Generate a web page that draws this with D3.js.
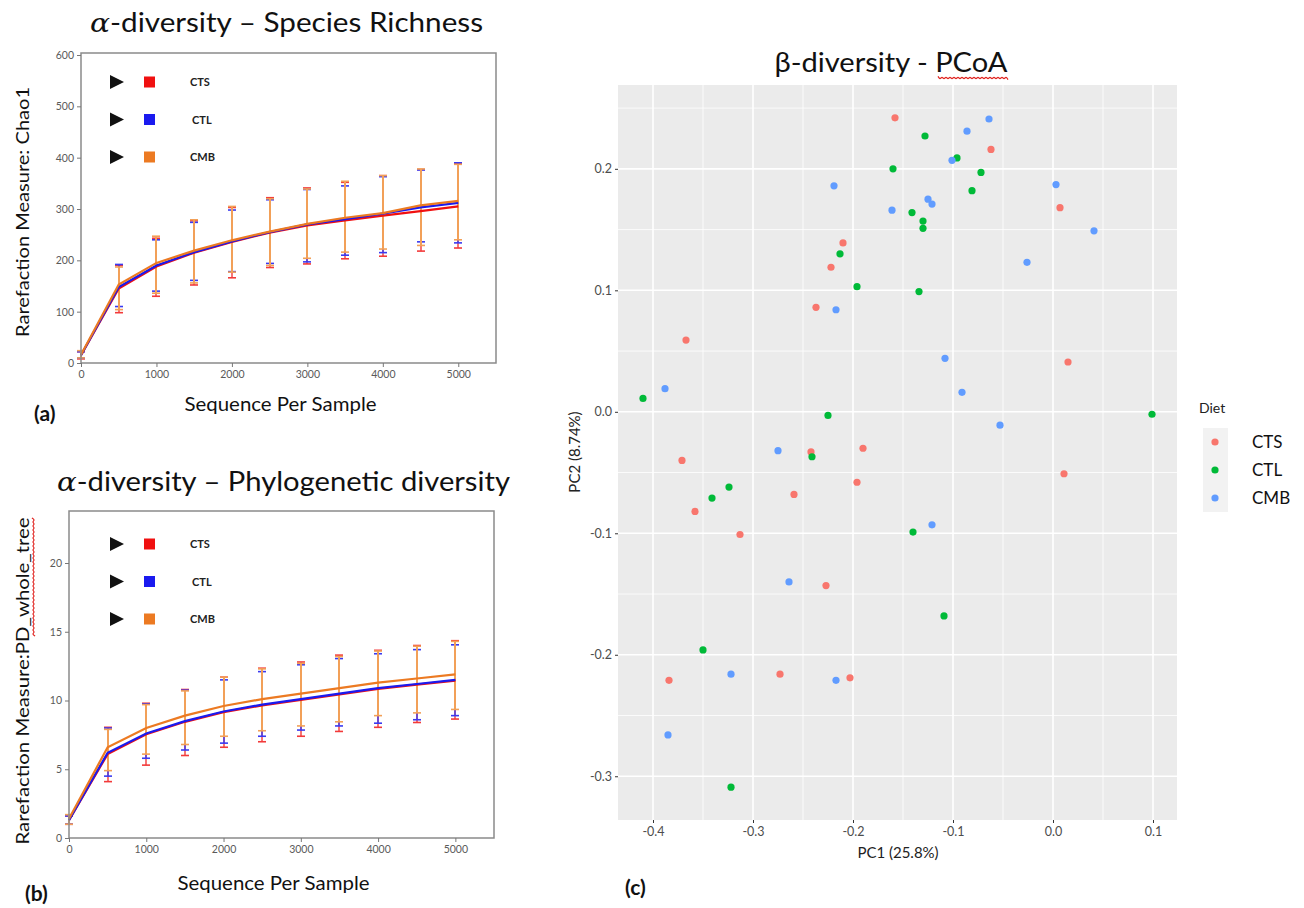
<!DOCTYPE html>
<html>
<head>
<meta charset="utf-8">
<script src="https://cdn.jsdelivr.net/npm/d3@7"></script>
<style>
  body { margin: 0; background: #fff; }
  text { font-family: Lato, "Open Sans", sans-serif; }
</style>
</head>
<body>
<div id="chart"></div>
<script>
// sequencing depths (x of both rarefaction plots)
var seqDepth = [0, 500, 1000, 1500, 2000, 2500, 3000, 3500, 4000, 4500, 5000];
var groups = ["CTS", "CTL", "CMB"];

// Chao1 rarefaction (a)
var chaoCTS = [15, 145, 188, 215, 236, 254, 268, 278, 287, 296, 305];
var chaoCTL = [15, 148, 190, 216, 237, 255, 270, 280, 291, 303, 312];
var chaoCMB = [16, 153, 195, 219, 239, 256, 271, 283, 292, 307, 316];
var chaoCTSHi = [22, 190, 243, 277, 303, 322, 341, 352, 365, 377, 388];
var chaoCTSLo = [8, 98, 130, 152, 166, 186, 193, 203, 208, 218, 224];
var chaoCTLHi = [22, 192, 240, 274, 298, 318, 338, 345, 363, 376, 390];
var chaoCTLLo = [10, 110, 140, 161, 178, 194, 197, 210, 215, 236, 234];
var chaoCMBHi = [24, 187, 247, 279, 305, 320, 339, 354, 365, 378, 387];
var chaoCMBLo = [10, 104, 136, 156, 177, 190, 204, 216, 222, 229, 240];

// PD whole tree rarefaction (b)
var pdCTS = [1.3, 6.1, 7.55, 8.45, 9.15, 9.65, 10.05, 10.45, 10.85, 11.15, 11.45];
var pdCTL = [1.3, 6.2, 7.6, 8.5, 9.2, 9.7, 10.1, 10.5, 10.9, 11.2, 11.5];
var pdCMB = [1.4, 6.6, 8.0, 8.9, 9.6, 10.1, 10.5, 10.9, 11.3, 11.6, 11.9];
var pdCTSHi = [1.6, 8.05, 9.8, 10.8, 11.7, 12.35, 12.8, 13.3, 13.65, 14.0, 14.35];
var pdCTSLo = [1.0, 4.1, 5.3, 6.0, 6.6, 7.0, 7.4, 7.75, 8.05, 8.4, 8.65];
var pdCTLHi = [1.6, 8.0, 9.75, 10.75, 11.5, 12.1, 12.6, 13.05, 13.4, 13.7, 14.05];
var pdCTLLo = [1.0, 4.5, 5.8, 6.4, 6.9, 7.4, 7.85, 8.15, 8.35, 8.6, 8.9];
var pdCMBHi = [1.7, 7.9, 9.7, 10.7, 11.7, 12.3, 12.7, 13.2, 13.6, 13.95, 14.3];
var pdCMBLo = [1.0, 4.9, 6.1, 6.8, 7.4, 7.8, 8.15, 8.45, 8.9, 9.1, 9.35];

// PCoA coordinates (c)
var ctsPC1 = [-0.158, -0.062, 0.007, -0.210, -0.222, -0.237, -0.367, 0.015, -0.242, -0.190, -0.371, -0.196, -0.259, -0.358, -0.313, 0.011, -0.227, -0.273, -0.203, -0.384];
var ctsPC2 = [0.242, 0.216, 0.168, 0.139, 0.119, 0.086, 0.059, 0.041, -0.033, -0.030, -0.040, -0.058, -0.068, -0.082, -0.101, -0.051, -0.143, -0.216, -0.219, -0.221];
var ctlPC1 = [-0.128, -0.160, -0.096, -0.072, -0.081, -0.141, -0.130, -0.130, -0.213, -0.196, -0.134, -0.410, -0.225, 0.099, -0.241, -0.324, -0.341, -0.140, -0.109, -0.350, -0.322];
var ctlPC2 = [0.227, 0.200, 0.209, 0.197, 0.182, 0.164, 0.157, 0.151, 0.130, 0.103, 0.099, 0.011, -0.003, -0.002, -0.037, -0.062, -0.071, -0.099, -0.168, -0.196, -0.309];
var cmbPC1 = [-0.064, -0.086, -0.101, -0.219, 0.003, -0.161, -0.125, -0.121, 0.041, -0.026, -0.217, -0.108, -0.388, -0.091, -0.053, -0.275, -0.121, -0.264, -0.322, -0.217, -0.385];
var cmbPC2 = [0.241, 0.231, 0.207, 0.186, 0.187, 0.166, 0.175, 0.171, 0.149, 0.123, 0.084, 0.044, 0.019, 0.016, -0.011, -0.032, -0.093, -0.140, -0.216, -0.221, -0.266];

var svg = d3.select("#chart")
  .append("svg")
  .attr("width", 1304)
  .attr("height", 908);

svg.append("rect").attr("width", 1304).attr("height", 908).attr("fill", "#fff");

var lineColors = {CTS: "#f01010", CTL: "#1a1aef", CMB: "#ec7a22"};
var barColors = {CTS: "#f23a3a", CTL: "#3a3af0", CMB: "#f2a058"};

// red spell-check squiggle, horizontal or vertical
function squiggle(a0, a1, b, vertical) {
  var pts = [];
  for (var i = 0; a0 + i * 2 <= a1; i++) {
    var w = b + (i % 2 ? 1.6 : -1.6);
    pts.push(vertical ? [w, a0 + i * 2] : [a0 + i * 2, w]);
  }
  svg.append("path")
    .attr("d", d3.line().curve(d3.curveBasis)(pts))
    .attr("fill", "none")
    .attr("stroke", "#e0201c")
    .attr("stroke-width", 1.2);
}

function drawRarefaction(cfg) {
  var x = d3.scaleLinear().domain([0, 5500]).range([cfg.left, cfg.right]);
  var y = d3.scaleLinear().domain([0, cfg.yMax]).range([cfg.bottom, cfg.yMaxPx]);
  var g = svg.append("g");

  // Step 1: error bars, then curves
  var series = [
    {name: "CTS", v: cfg.cts, lo: cfg.ctsLo, hi: cfg.ctsHi},
    {name: "CTL", v: cfg.ctl, lo: cfg.ctlLo, hi: cfg.ctlHi},
    {name: "CMB", v: cfg.cmb, lo: cfg.cmbLo, hi: cfg.cmbHi}
  ];
  series.forEach(function(s) {
    var eb = g.append("g").attr("stroke", barColors[s.name])
      .attr("stroke-width", s.name == "CMB" ? 2 : 1.4);
    seqDepth.forEach(function(d, i) {
      var xp = Math.round(x(d));
      eb.append("line").attr("x1", xp).attr("x2", xp).attr("y1", y(s.lo[i])).attr("y2", y(s.hi[i]));
      eb.append("line").attr("x1", xp - 4).attr("x2", xp + 4).attr("y1", y(s.lo[i])).attr("y2", y(s.lo[i])).attr("stroke-width", 1.6);
      eb.append("line").attr("x1", xp - 4).attr("x2", xp + 4).attr("y1", y(s.hi[i])).attr("y2", y(s.hi[i])).attr("stroke-width", 1.6);
    });
  });
  var line = d3.line().x((d, i) => x(seqDepth[i])).y(d => y(d));
  series.forEach(function(s) {
    g.append("path")
      .attr("d", line(s.v))
      .attr("fill", "none")
      .attr("stroke", lineColors[s.name])
      .attr("stroke-width", 2.2);
  });

  // Step 2: frame and axes
  g.append("rect")
    .attr("x", cfg.left).attr("y", cfg.top)
    .attr("width", cfg.right - cfg.left).attr("height", cfg.bottom - cfg.top)
    .attr("fill", "none").attr("stroke", "#8a8a8a").attr("stroke-width", 1.5);

  var xAxis = g.append("g")
    .attr("transform", `translate(0, ${cfg.bottom})`)
    .call(d3.axisBottom(x).tickValues(seqDepth.filter(d => d % 1000 == 0))
      .tickFormat(d3.format("d")).tickSize(4).tickPadding(4));
  var yAxis = g.append("g")
    .attr("transform", `translate(${cfg.left}, 0)`)
    .call(d3.axisLeft(y).tickValues(cfg.yTicks).tickFormat(d3.format("d")).tickSize(4).tickPadding(3));
  [xAxis, yAxis].forEach(function(a) {
    a.select(".domain").remove();
    a.selectAll("line").attr("stroke", "#777");
    a.selectAll("text").attr("fill", "#5a5a5a").attr("font-size", "10.5px")
      .attr("font-family", "'Liberation Sans', Arial, sans-serif");
  });

  // Step 3: legend
  groups.forEach(function(name, i) {
    var cy = cfg.legendY + i * cfg.legendStep;
    g.append("path")
      .attr("d", `M${cfg.legendX},${cy - 7}L${cfg.legendX + 14},${cy}L${cfg.legendX},${cy + 7}Z`)
      .attr("fill", "#111");
    g.append("rect")
      .attr("x", cfg.legendX + 34).attr("y", cy - 5.5)
      .attr("width", 11).attr("height", 11)
      .attr("fill", lineColors[name]);
    g.append("text")
      .attr("x", cfg.legendX + 80 + (name == "CTL" ? 2 : 0)).attr("y", cy + 4)
      .attr("font-size", "11px").attr("font-weight", "bold")
      .attr("font-family", "'Liberation Sans', Arial, sans-serif")
      .attr("fill", "#222")
      .text(name);
  });

  // Step 4: titles and labels
  var t = svg.append("text")
    .attr("x", cfg.titleX).attr("y", cfg.titleY)
    .attr("font-size", "26px").attr("fill", "#111")
    .attr("textLength", cfg.titleW).attr("lengthAdjust", "spacingAndGlyphs");
  t.append("tspan").attr("font-style", "italic").attr("font-family", "'DejaVu Serif', serif").text("α");
  t.append("tspan").text(cfg.title);

  svg.append("text")
    .attr("transform", `translate(${cfg.yLabelX}, ${cfg.yLabelY}) rotate(-90)`)
    .attr("text-anchor", "middle")
    .attr("font-size", "18px").attr("fill", "#111")
    .attr("textLength", cfg.yLabelW).attr("lengthAdjust", "spacingAndGlyphs")
    .text(cfg.yLabel);

  svg.append("text")
    .attr("x", (cfg.left + cfg.right) / 2 - 8).attr("y", cfg.xLabelY)
    .attr("text-anchor", "middle")
    .attr("font-size", "19px").attr("fill", "#111")
    .attr("textLength", 192).attr("lengthAdjust", "spacingAndGlyphs")
    .text("Sequence Per Sample");

  svg.append("text")
    .attr("x", cfg.tagX).attr("y", cfg.tagY)
    .attr("font-size", "21px").attr("font-weight", "bold").attr("fill", "#111")
    .text(cfg.tag);
}

drawRarefaction({
  left: 81, right: 496, top: 53, bottom: 363, yMax: 600, yMaxPx: 55,
  yTicks: [0, 100, 200, 300, 400, 500, 600],
  cts: chaoCTS, ctl: chaoCTL, cmb: chaoCMB,
  ctsLo: chaoCTSLo, ctsHi: chaoCTSHi, ctlLo: chaoCTLLo, ctlHi: chaoCTLHi, cmbLo: chaoCMBLo, cmbHi: chaoCMBHi,
  legendX: 110, legendY: 82, legendStep: 37.5,
  title: "-diversity – Species Richness", titleX: 90, titleY: 32, titleW: 393,
  yLabel: "Rarefaction Measure: Chao1", yLabelX: 29, yLabelY: 212, yLabelW: 250,
  xLabelY: 411, tag: "(a)", tagX: 34, tagY: 421
});

drawRarefaction({
  left: 69, right: 494, top: 511, bottom: 838, yMax: 20, yMaxPx: 563,
  yTicks: [0, 5, 10, 15, 20],
  cts: pdCTS, ctl: pdCTL, cmb: pdCMB,
  ctsLo: pdCTSLo, ctsHi: pdCTSHi, ctlLo: pdCTLLo, ctlHi: pdCTLHi, cmbLo: pdCMBLo, cmbHi: pdCMBHi,
  legendX: 110, legendY: 544, legendStep: 37.5,
  title: "-diversity – Phylogenetic diversity", titleX: 57, titleY: 491, titleW: 453,
  yLabel: "Rarefaction Measure:PD_whole_tree", yLabelX: 29, yLabelY: 681, yLabelW: 327,
  xLabelY: 890, tag: "(b)", tagX: 25, tagY: 901
});

// squiggle beside PD_whole_tree (rotated text)
squiggle(518, 636, 33.5, true);

// (c) PCoA scatter
var xC = d3.scaleLinear().domain([-0.435, 0.124]).range([618, 1177]);
var yC = d3.scaleLinear().domain([-0.336, 0.269]).range([820, 85]);
var pc = svg.append("g");

pc.append("rect")
  .attr("x", 618).attr("y", 85).attr("width", 559).attr("height", 735)
  .attr("fill", "#ebebeb");

var xMajor = [-0.4, -0.3, -0.2, -0.1, 0.0, 0.1];
var yMajor = [-0.3, -0.2, -0.1, 0.0, 0.1, 0.2];
var xMinor = [-0.35, -0.25, -0.15, -0.05, 0.05];
var yMinor = [-0.25, -0.15, -0.05, 0.05, 0.15, 0.25];

xMinor.forEach(d => pc.append("line").attr("x1", xC(d)).attr("x2", xC(d)).attr("y1", 85).attr("y2", 820).attr("stroke", "#fff").attr("stroke-width", 0.8));
yMinor.forEach(d => pc.append("line").attr("y1", yC(d)).attr("y2", yC(d)).attr("x1", 618).attr("x2", 1177).attr("stroke", "#fff").attr("stroke-width", 0.8));
xMajor.forEach(d => pc.append("line").attr("x1", xC(d)).attr("x2", xC(d)).attr("y1", 85).attr("y2", 820).attr("stroke", "#fff").attr("stroke-width", 1.6));
yMajor.forEach(d => pc.append("line").attr("y1", yC(d)).attr("y2", yC(d)).attr("x1", 618).attr("x2", 1177).attr("stroke", "#fff").attr("stroke-width", 1.6));

var fmt = d => d.toFixed(1);
var xAxisC = pc.append("g").attr("transform", "translate(0, 820)")
  .call(d3.axisBottom(xC).tickValues(xMajor).tickFormat(fmt).tickSize(3).tickPadding(4));
var yAxisC = pc.append("g").attr("transform", "translate(618, 0)")
  .call(d3.axisLeft(yC).tickValues(yMajor).tickFormat(fmt).tickSize(3).tickPadding(3));
[xAxisC, yAxisC].forEach(function(a) {
  a.select(".domain").remove();
  a.selectAll("line").attr("stroke", "#333");
  a.selectAll("text").attr("fill", "#4d4d4d").attr("font-size", "12.5px")
    .attr("font-family", "'Liberation Sans', Arial, sans-serif");
});

var dietColors = {CTS: "#f8766d", CTL: "#00ba38", CMB: "#619cff"};
var pcoaData = [
  {name: "CTS", x: ctsPC1, y: ctsPC2},
  {name: "CTL", x: ctlPC1, y: ctlPC2},
  {name: "CMB", x: cmbPC1, y: cmbPC2}
];
pcoaData.forEach(function(s) {
  pc.selectAll(null)
    .data(s.x)
    .enter()
    .append("circle")
    .attr("cx", d => xC(d))
    .attr("cy", (d, i) => yC(s.y[i]))
    .attr("r", 3.6)
    .attr("fill", dietColors[s.name]);
});

svg.append("text")
  .attr("x", 898).attr("y", 858)
  .attr("text-anchor", "middle")
  .attr("font-size", "15px").attr("fill", "#222")
  .attr("font-family", "'Liberation Sans', Arial, sans-serif")
  .text("PC1 (25.8%)");

svg.append("text")
  .attr("transform", "translate(580, 452) rotate(-90)")
  .attr("text-anchor", "middle")
  .attr("font-size", "15px").attr("fill", "#222")
  .attr("font-family", "'Liberation Sans', Arial, sans-serif")
  .text("PC2 (8.74%)");

svg.append("text")
  .attr("x", 891).attr("y", 72)
  .attr("text-anchor", "middle")
  .attr("font-size", "27px").attr("fill", "#111")
  .attr("textLength", 233).attr("lengthAdjust", "spacingAndGlyphs")
  .text("β-diversity - PCoA");
squiggle(938, 1008, 78, false);

svg.append("text")
  .attr("x", 625).attr("y", 895)
  .attr("font-size", "21px").attr("font-weight", "bold").attr("fill", "#111")
  .text("(c)");

// legend for (c)
var leg = svg.append("g");
leg.append("text")
  .attr("x", 1199).attr("y", 413)
  .attr("font-size", "14px").attr("fill", "#222")
  .text("Diet");
leg.append("rect")
  .attr("x", 1203).attr("y", 428).attr("width", 25).attr("height", 84)
  .attr("fill", "#f2f2f2");
groups.forEach(function(name, i) {
  leg.append("circle")
    .attr("cx", 1215).attr("cy", 442 + i * 28).attr("r", 3.6)
    .attr("fill", dietColors[name]);
  leg.append("text")
    .attr("x", 1252).attr("y", 448 + i * 28)
    .attr("font-size", "17px").attr("fill", "#111")
    .text(name);
});
</script>
</body>
</html>
